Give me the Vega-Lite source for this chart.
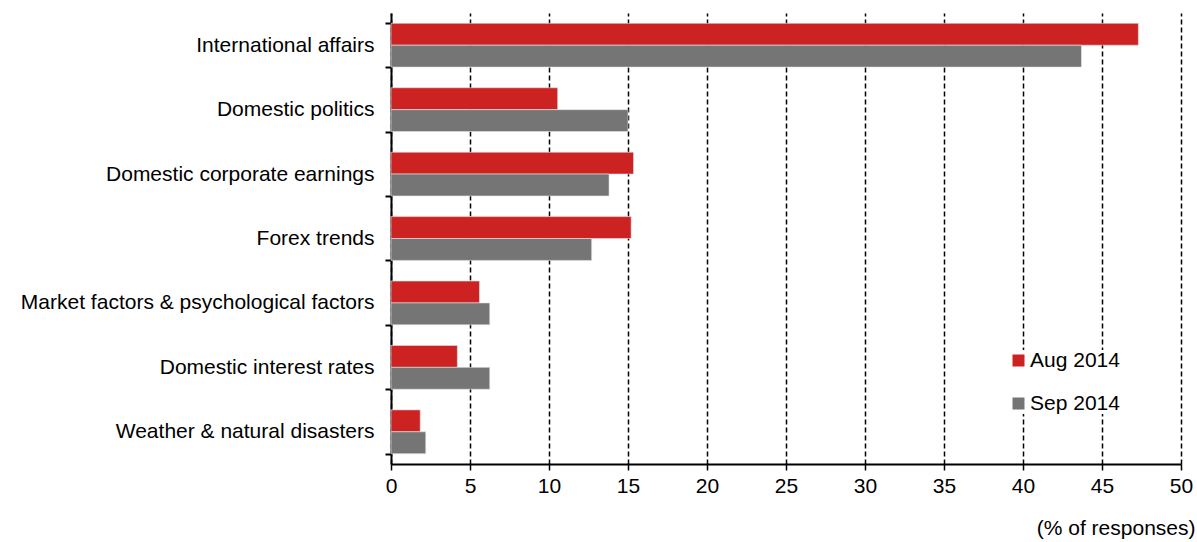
{
  "$schema": "https://vega.github.io/schema/vega-lite/v6.json",
  "autosize": "none",
  "width": 790,
  "height": 451,
  "padding": {"left": 391, "top": 13, "right": 16, "bottom": 78},
  "background": "white",
  "config": {
    "font": "Liberation Sans",
    "view": {"stroke": null}
  },
  "data": {
    "values": [
      {"category": "International affairs", "month": "Aug 2014", "value": 47.3},
      {"category": "International affairs", "month": "Sep 2014", "value": 43.7},
      {"category": "Domestic politics", "month": "Aug 2014", "value": 10.55},
      {"category": "Domestic politics", "month": "Sep 2014", "value": 15.0},
      {"category": "Domestic corporate earnings", "month": "Aug 2014", "value": 15.35},
      {"category": "Domestic corporate earnings", "month": "Sep 2014", "value": 13.8},
      {"category": "Forex trends", "month": "Aug 2014", "value": 15.2},
      {"category": "Forex trends", "month": "Sep 2014", "value": 12.7},
      {"category": "Market factors & psychological factors", "month": "Aug 2014", "value": 5.6},
      {"category": "Market factors & psychological factors", "month": "Sep 2014", "value": 6.25},
      {"category": "Domestic interest rates", "month": "Aug 2014", "value": 4.2},
      {"category": "Domestic interest rates", "month": "Sep 2014", "value": 6.25},
      {"category": "Weather & natural disasters", "month": "Aug 2014", "value": 1.85},
      {"category": "Weather & natural disasters", "month": "Sep 2014", "value": 2.2}
    ]
  },
  "mark": {"type": "bar", "stroke": "#e6e6e6", "strokeWidth": 0.6},
  "encoding": {
    "y": {
      "field": "category",
      "type": "nominal",
      "sort": ["International affairs", "Domestic politics", "Domestic corporate earnings", "Forex trends", "Market factors & psychological factors", "Domestic interest rates", "Weather & natural disasters"],
      "scale": {"paddingInner": 0.32, "paddingOuter": 0.16},
      "axis": {
        "title": null,
        "tickBand": "extent",
        "domainColor": "black",
        "domainWidth": 2,
        "tickColor": "black",
        "tickWidth": 2,
        "tickSize": 6,
        "labelFontSize": 21,
        "labelColor": "black",
        "labelPadding": 11,
        "labelLimit": 400
      }
    },
    "yOffset": {
      "field": "month",
      "type": "nominal",
      "sort": ["Aug 2014", "Sep 2014"]
    },
    "x": {
      "field": "value",
      "type": "quantitative",
      "scale": {"domain": [0, 50], "nice": false},
      "axis": {
        "title": "(% of responses)",
        "titleFontSize": 21,
        "titleFontWeight": "normal",
        "titleColor": "black",
        "titleAnchor": "end",
        "titleAlign": "right",
        "titleBaseline": "alphabetic",
        "titleX": 804,
        "titleY": 70,
        "values": [0, 5, 10, 15, 20, 25, 30, 35, 40, 45, 50],
        "labelFlush": false,
        "grid": true,
        "gridColor": "black",
        "gridDash": [5, 3],
        "gridWidth": 1.5,
        "gridOpacity": 1,
        "domainColor": "black",
        "domainWidth": 2,
        "tickColor": "black",
        "tickWidth": 1.5,
        "tickSize": 6,
        "labelFontSize": 21,
        "labelColor": "black",
        "labelPadding": 5
      }
    },
    "color": {
      "field": "month",
      "type": "nominal",
      "sort": ["Aug 2014", "Sep 2014"],
      "scale": {"domain": ["Aug 2014", "Sep 2014"], "range": ["#CC2222", "#757575"]},
      "legend": {
        "title": null,
        "orient": "none",
        "legendX": 617,
        "legendY": 337,
        "symbolType": "square",
        "symbolSize": 144,
        "symbolStrokeWidth": 0,
        "labelFontSize": 21,
        "labelColor": "black",
        "labelOffset": 1,
        "rowPadding": 21,
        "fillColor": "white"
      }
    }
  }
}
